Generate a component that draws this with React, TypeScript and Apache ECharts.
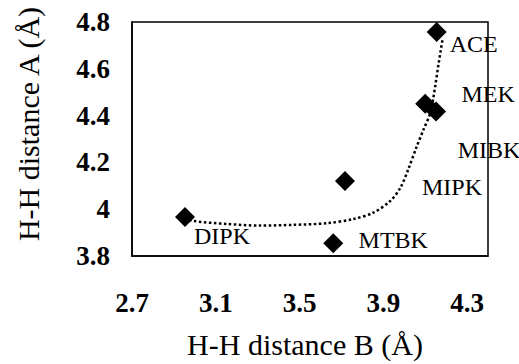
import React, { useEffect, useRef } from "react";
import * as echarts from "echarts";

const names = ["ACE", "MEK", "MIBK", "MIPK", "DIPK", "MTBK"];
const distB = [4.155, 4.1, 4.152, 3.717, 2.953, 3.661];
const distA = [4.757, 4.451, 4.417, 4.12, 3.967, 3.854];
const labelOffsets: [number, number][] = [
  [37, 12],
  [63, -10],
  [53, 38],
  [107, 6],
  [37, 19],
  [60, -3],
];

const curveB = [2.953, 2.985, 3.152, 3.311, 3.47, 3.63, 3.757, 3.852, 3.932, 3.98, 4.02, 4.06, 4.091, 4.123, 4.139, 4.163, 4.184];
const curveA = [3.967, 3.951, 3.937, 3.93, 3.933, 3.94, 3.958, 3.985, 4.034, 4.089, 4.172, 4.269, 4.338, 4.407, 4.476, 4.615, 4.732];

const xTicks = [2.7, 3.1, 3.5, 3.9, 4.3];

const serif = "'Liberation Serif', 'Times New Roman', serif";

export default function App() {
  const ref = useRef<HTMLDivElement>(null);
  useEffect(() => {
    if (!ref.current) return;
    const chart = echarts.init(ref.current, null, { renderer: "svg" });
    chart.setOption({
      animation: false,
      backgroundColor: "#fff",
      textStyle: { fontFamily: serif },
      grid: {
        left: 132,
        right: 31,
        top: 22,
        bottom: 101,
        show: true,
        borderColor: "#000",
        borderWidth: 1.5,
        backgroundColor: "transparent",
      },
      xAxis: {
        type: "value",
        min: 2.7,
        max: 4.4,
        name: "H-H distance B (Å)",
        nameLocation: "middle",
        nameGap: 73,
        nameTextStyle: { fontFamily: serif, fontSize: 30, color: "#000", padding: [0, 10, 0, 0] },
        axisLine: { show: true, lineStyle: { color: "#000", width: 1.5 } },
        axisTick: { show: false },
        splitLine: { show: false },
        axisLabel: {
          customValues: xTicks,
          fontFamily: serif,
          fontSize: 27,
          fontWeight: "bold",
          color: "#000",
          margin: 33,
        },
      },
      yAxis: {
        type: "value",
        min: 3.8,
        max: 4.8,
        interval: 0.2,
        name: "H-H distance A (Å)",
        nameLocation: "middle",
        nameGap: 89,
        nameTextStyle: { fontFamily: serif, fontSize: 30, color: "#000", padding: [0, 0, 0, 30] },
        axisLine: { show: true, lineStyle: { color: "#000", width: 1.5 } },
        axisTick: { show: false },
        splitLine: { show: false },
        axisLabel: {
          fontFamily: serif,
          fontSize: 27,
          fontWeight: "bold",
          color: "#000",
          margin: 22,
        },
      },
      series: [
        {
          type: "line",
          data: curveB.map((b, i) => [b, curveA[i]]),
          smooth: 0.3,
          symbol: "none",
          lineStyle: { color: "#000", width: 2.5, type: "dotted" },
          z: 1,
        },
        {
          type: "scatter",
          symbol: "diamond",
          symbolSize: 20,
          itemStyle: { color: "#000", opacity: 1 },
          z: 2,
          data: names.map((n, i) => ({
            name: n,
            value: [distB[i], distA[i]],
            label: {
              show: true,
              formatter: "{b}",
              position: "inside",
              offset: labelOffsets[i],
              align: "center",
              verticalAlign: "middle",
              fontFamily: serif,
              fontSize: 24,
              color: "#000",
            },
          })),
        },
      ],
    });
    return () => chart.dispose();
  }, []);
  return <div ref={ref} style={{ width: 519, height: 364, position: "absolute", left: 0, top: 0 }} />;
}
